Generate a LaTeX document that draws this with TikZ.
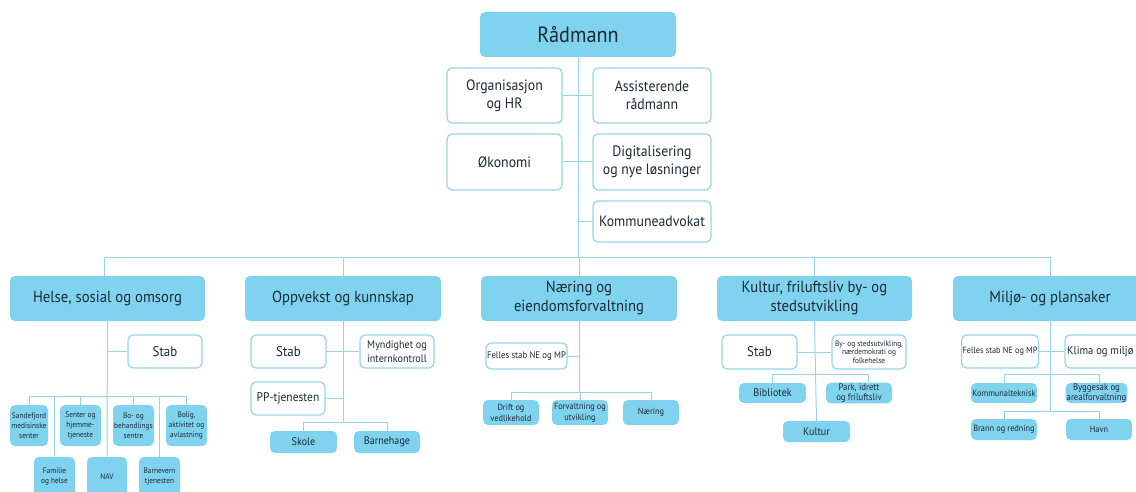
\documentclass[tikz,border=0pt]{standalone}
\usepackage{fontspec}
\setmainfont{PT Sans}[FakeStretch=0.92]
\definecolor{cbox}{RGB}{128,211,238}
\definecolor{lineblue}{RGB}{150,212,236}
\definecolor{txt}{RGB}{28,42,54}
\newcommand\fs[2]{\fontsize{#1}{#2}\selectfont}
\newcommand\bx[8]{\node[#2,minimum width={#5-#3},minimum height={#6-#4},font=#8] (#1) at ({(#3+#5)/2},{(#4+#6)/2}) {#7};}
\tikzset{
  bluebox/.style={fill=cbox,draw=none,rounded corners=5pt,text=txt,align=center,inner sep=1pt},
  whitebox/.style={fill=white,draw=lineblue,line width=1.2pt,rounded corners=5pt,text=txt,align=center,inner sep=1pt},
  conn/.style={draw=lineblue,line width=1pt}
}
\begin{document}
\begin{tikzpicture}[x=1pt,y=-1pt]
\useasboundingbox (0,0) rectangle (1136,492);
\clip (0,0) rectangle (1136,492);
% top
\bx{rad}{bluebox}{480}{12}{676}{57}{Rådmann}{\fs{22}{24}}
\bx{org}{whitebox}{447}{68}{562}{123}{Organisasjon\\og HR}{\fs{15}{18}}
\bx{ass}{whitebox}{593}{68}{711}{123}{Assisterende\\rådmann}{\fs{15}{18}}
\bx{oko}{whitebox}{447}{134}{562}{190}{Økonomi}{\fs{15}{18}}
\bx{dig}{whitebox}{593}{134}{711}{190}{Digitalisering\\og nye løsninger}{\fs{15}{18}}
\bx{ka}{whitebox}{593}{201}{711}{242}{Kommuneadvokat}{\fs{15}{17}}
% level 1
\bx{helse}{bluebox}{10}{276}{205}{321}{Helse, sosial og omsorg}{\fs{16}{19}}
\bx{oppv}{bluebox}{245}{276}{441}{321}{Oppvekst og kunnskap}{\fs{16}{19}}
\bx{naer}{bluebox}{481}{276}{677}{321}{Næring og\\eiendomsforvaltning}{\fs{16}{19}}
\bx{kult}{bluebox}{717}{276}{912}{321}{Kultur, friluftsliv by- og\\stedsutvikling}{\fs{16}{19}}
\bx{milj}{bluebox}{953}{276}{1147}{321}{Miljø- og plansaker}{\fs{16}{19}}
\coordinate (busL) at (104,257);
\coordinate (busR) at (1050,257);
% Helse
\bx{hstab}{whitebox}{128}{335}{202}{368}{Stab}{\fs{14}{17}}
\bx{sand}{bluebox}{10}{405}{48}{446}{Sandefjord\\medisinske\\senter}{\fs{8}{10}}
\bx{sent}{bluebox}{60}{405}{101}{446}{Senter og\\hjemme-\\tjeneste}{\fs{8}{10}}
\bx{bo}{bluebox}{113}{405}{154}{446}{Bo- og\\behandlings\\sentre}{\fs{8}{10}}
\bx{bolig}{bluebox}{166}{405}{207}{446}{Bolig,\\aktivitet og\\avlastning}{\fs{8}{10}}
\bx{fam}{bluebox}{34}{457}{75}{496}{Familie\\og helse}{\fs{8}{10}}
\bx{nav}{bluebox}{87}{457}{127}{496}{NAV}{\fs{8}{10}}
\bx{barn}{bluebox}{139}{457}{180}{496}{Barnevern\\tjenesten}{\fs{8}{10}}
\coordinate (hbus) at (0,396);
% Oppvekst
\bx{ostab}{whitebox}{251}{335}{326}{368}{Stab}{\fs{14}{17}}
\bx{mynd}{whitebox}{360}{335}{434}{368}{Myndighet og\\internkontroll}{\fs{11}{13.5}}
\bx{pp}{whitebox}{251}{382}{325}{415}{PP-tjenesten}{\fs{12.5}{15}}
\bx{skole}{bluebox}{270}{431}{337}{453}{Skole}{\fs{11}{13}}
\bx{bhage}{bluebox}{354}{431}{420}{453}{Barnehage}{\fs{11}{13}}
\coordinate (obus) at (0,422);
% Næring
\bx{nfelles}{whitebox}{486}{343}{567}{369}{Felles stab NE og MP}{\fs{9.5}{11}}
\bx{drift}{bluebox}{483}{400}{539}{425}{Drift og\\vedlikehold}{\fs{9}{11}}
\bx{forv}{bluebox}{552}{400}{608}{425}{Forvaltning og\\utvikling}{\fs{9}{11}}
\bx{naering}{bluebox}{623}{400}{679}{425}{Næring}{\fs{9}{11}}
\coordinate (nbus) at (0,392);
% Kultur
\bx{kstab}{whitebox}{722}{335}{797}{369}{Stab}{\fs{14}{17}}
\bx{bystad}{whitebox}{832}{335}{906}{369}{By- og stedsutvikling,\\nærdemokrati og\\folkehelse}{\fs{8}{8.5}}
\bx{bibl}{bluebox}{739}{383}{806}{403}{Bibliotek}{\fs{11}{13}}
\bx{park}{bluebox}{826}{383}{892}{403}{Park, idrett\\og friluftsliv}{\fs{9.5}{10}}
\bx{kultur}{bluebox}{783}{421}{850}{442}{Kultur}{\fs{11}{13}}
\coordinate (kbus) at (0,374);
% Miljø
\bx{mfelles}{whitebox}{963}{335}{1037}{368}{Felles stab NE og MP}{\fs{9}{11}}
\bx{klima}{whitebox}{1065}{335}{1151}{368}{}{\fs{12}{14}}
\node[text=txt,font=\fs{11.5}{14},anchor=west,inner sep=0pt] (klimatxt) at (1067,351.5) {Klima og miljø};
\bx{komm}{bluebox}{971}{383}{1037}{403}{Kommunalteknisk}{\fs{9}{11}}
\bx{bygg}{bluebox}{1066}{383}{1127}{403}{Byggesak og\\arealforvaltning}{\fs{9.5}{9.5}}
\bx{brann}{bluebox}{971}{419}{1037}{440}{Brann og redning}{\fs{9}{11}}
\bx{havn}{bluebox}{1066}{419}{1132}{440}{Havn}{\fs{9}{11}}
\coordinate (mbus1) at (0,374);
\coordinate (mbus2) at (0,411);
% ---------- connectors ----------
\draw[conn] (rad.south) -- (rad.south |- busL);
\draw[conn] (org.east) -- (ass.west);
\draw[conn] (oko.east) -- (dig.west);
\draw[conn] (ka.west) -- (ka.west -| rad.south);
\draw[conn] (busL) -- (busR);
\draw[conn] (busL) -- (busL |- helse.north);
\draw[conn] (oppv.north |- busL) -- (oppv.north);
\draw[conn] (naer.north |- busL) -- (naer.north);
\draw[conn] (kult.north |- busL) -- (kult.north);
\draw[conn] (busR) -- (busR |- milj.north);
% Helse
\draw[conn] (helse.south) -- (nav.north);
\draw[conn] (hstab.west) -- (hstab.west -| helse.south);
\draw[conn] (sand.north) -- (sand.north |- hbus) -| (bolig.north);
\draw[conn] (sent.north) -- (sent.north |- hbus);
\draw[conn] (bo.north) -- (bo.north |- hbus);
\draw[conn] (fam.north) -- (fam.north |- hbus);
\draw[conn] (barn.north) -- (barn.north |- hbus);
% Oppvekst
\draw[conn] (oppv.south) -- (oppv.south |- obus);
\draw[conn] (ostab.east) -- (mynd.west);
\draw[conn] (pp.east) -- (pp.east -| oppv.south);
\draw[conn] (skole.north) -- (skole.north |- obus) -| (bhage.north);
% Næring
\draw[conn] (naer.south) -- (naer.south |- nbus);
\draw[conn] (nfelles.east) -- (nfelles.east -| naer.south);
\draw[conn] (drift.north) -- (drift.north |- nbus) -| (naering.north);
\draw[conn] (forv.north) -- (forv.north |- nbus);
% Kultur
\draw[conn] (kult.south) -- (kultur.north);
\draw[conn] (kstab.east) -- (bystad.west);
\coordinate (kbr) at (868,374);
\draw[conn] (bibl.north) -- (bibl.north |- kbus) -- (kbr) -- (kbr |- park.north);
% Miljø
\draw[conn] (milj.south) -- (milj.south |- mbus2);
\draw[conn] (mfelles.east) -- (klima.west);
\coordinate (mb1r) at (1099,374);
\coordinate (mb2r) at (1099,411);
\draw[conn] (komm.north) -- (komm.north |- mbus1) -- (mb1r) -- (mb1r |- bygg.north);
\draw[conn] (brann.north) -- (brann.north |- mbus2) -- (mb2r) -- (mb2r |- havn.north);
\end{tikzpicture}
\end{document}
